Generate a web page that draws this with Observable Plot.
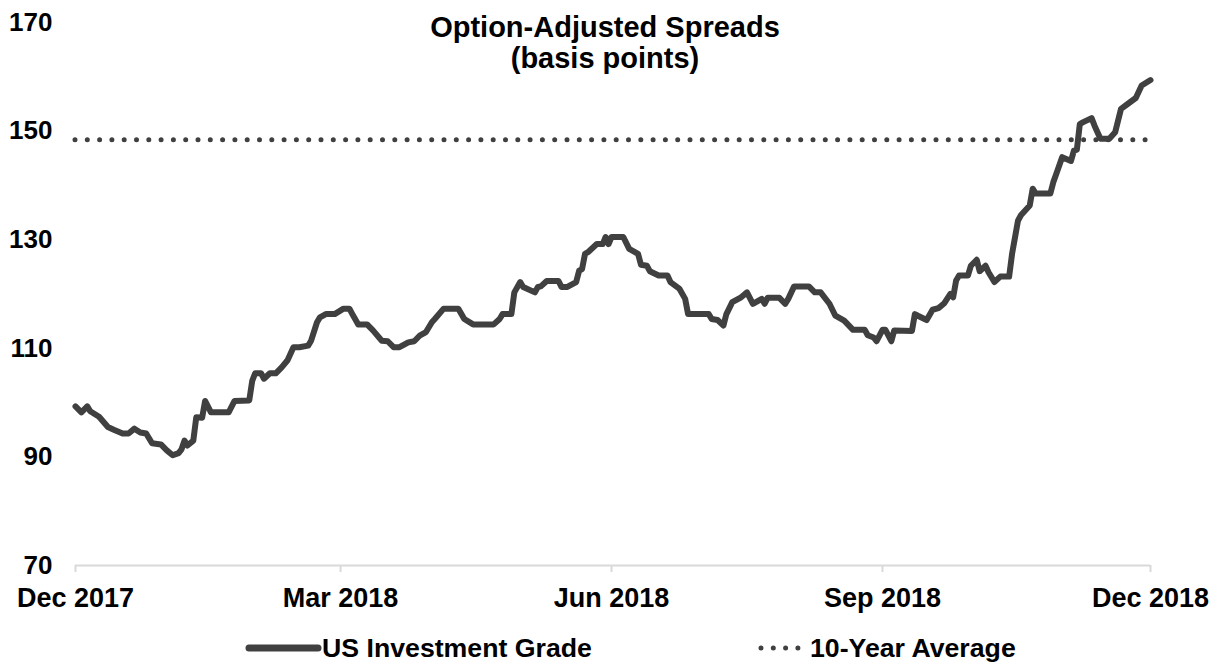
<!DOCTYPE html>
<html><head><meta charset="utf-8">
<script src="https://cdn.jsdelivr.net/npm/d3@7"></script>
<script src="https://cdn.jsdelivr.net/npm/@observablehq/plot@0.6"></script>
<style>
body{margin:0;background:#fff;font-family:"Liberation Sans",Arial,sans-serif;}
#wrap{position:relative;width:1218px;height:664px;overflow:hidden;}
#title{position:absolute;left:305px;width:600px;top:12px;text-align:center;font-weight:bold;font-size:29px;line-height:31px;color:#000;}
#legend{position:relative;height:39px;}
.item{position:absolute;top:8px;display:flex;align-items:center;height:30px;line-height:30px;font-weight:bold;font-size:26.7px;color:#000;white-space:nowrap;}
.item svg{display:block;}
</style></head>
<body><div id="wrap"><div id="chart"></div><div id="title">Option-Adjusted Spreads<br>(basis points)</div><div id="legend"></div></div>
<script>
const seriesName = "US Investment Grade";
const averageName = "10-Year Average";
const tenYearAverage = 148.4;
const yTicks = [70, 90, 110, 130, 150, 170];
const xTickDates = ["2017-12-01", "2018-03-01", "2018-06-01", "2018-09-01", "2018-12-01"];
const dates = [
"2017-12-01","2017-12-03","2017-12-05","2017-12-06","2017-12-09","2017-12-12","2017-12-14","2017-12-17","2017-12-19","2017-12-21",
"2017-12-23","2017-12-25","2017-12-27","2017-12-30","2018-01-01","2018-01-03","2018-01-05","2018-01-06","2018-01-07","2018-01-08",
"2018-01-10","2018-01-11","2018-01-13","2018-01-14","2018-01-16","2018-01-22","2018-01-24","2018-01-29","2018-01-30","2018-01-31",
"2018-02-02","2018-02-03","2018-02-05","2018-02-07","2018-02-09","2018-02-11","2018-02-13","2018-02-15","2018-02-18","2018-02-19",
"2018-02-21","2018-02-22","2018-02-24","2018-02-27","2018-03-02","2018-03-04","2018-03-05","2018-03-07","2018-03-10","2018-03-12",
"2018-03-15","2018-03-17","2018-03-19","2018-03-21","2018-03-24","2018-03-26","2018-03-28","2018-03-30","2018-04-01","2018-04-02",
"2018-04-05","2018-04-10","2018-04-12","2018-04-15","2018-04-22","2018-04-24","2018-04-25","2018-04-28","2018-04-29","2018-05-01",
"2018-05-02","2018-05-06","2018-05-07","2018-05-08","2018-05-10","2018-05-14","2018-05-15","2018-05-17","2018-05-20","2018-05-21",
"2018-05-22","2018-05-23","2018-05-24","2018-05-27","2018-05-29","2018-05-30","2018-05-31","2018-06-01","2018-06-05","2018-06-07",
"2018-06-10","2018-06-11","2018-06-13","2018-06-14","2018-06-17","2018-06-20","2018-06-21","2018-06-24","2018-06-26","2018-06-27",
"2018-07-04","2018-07-05","2018-07-07","2018-07-09","2018-07-10","2018-07-12","2018-07-15","2018-07-17","2018-07-19","2018-07-22",
"2018-07-23","2018-07-24","2018-07-28","2018-07-30","2018-07-31","2018-08-02","2018-08-07","2018-08-09","2018-08-11","2018-08-14",
"2018-08-16","2018-08-19","2018-08-22","2018-08-26","2018-08-27","2018-08-29","2018-08-30","2018-09-01","2018-09-02","2018-09-04",
"2018-09-05","2018-09-11","2018-09-12","2018-09-13","2018-09-16","2018-09-18","2018-09-20","2018-09-22","2018-09-24","2018-09-25",
"2018-09-26","2018-09-27","2018-09-30","2018-10-01","2018-10-03","2018-10-04","2018-10-06","2018-10-07","2018-10-09","2018-10-11",
"2018-10-14","2018-10-15","2018-10-17","2018-10-18","2018-10-21","2018-10-22","2018-10-23","2018-10-28","2018-10-29","2018-10-30",
"2018-11-01","2018-11-04","2018-11-05","2018-11-06","2018-11-07","2018-11-08","2018-11-11","2018-11-12","2018-11-14","2018-11-17",
"2018-11-19","2018-11-21","2018-11-23","2018-11-26","2018-11-28","2018-12-01"
];
const spreads = [
99.3,98.2,99.3,98.4,97.4,95.5,95.0,94.3,94.3,95.2,
94.5,94.3,92.5,92.3,91.2,90.3,90.7,91.4,93.0,92.1,
93.0,97.3,97.2,100.3,98.2,98.2,100.3,100.4,104.0,105.4,
105.4,104.4,105.4,105.4,106.5,107.8,110.2,110.2,110.5,111.4,
114.8,115.7,116.3,116.3,117.3,117.3,116.3,114.4,114.4,113.3,
111.4,111.3,110.2,110.2,111.1,111.3,112.4,113.0,114.8,115.4,
117.3,117.3,115.4,114.4,114.4,115.4,116.3,116.3,120.3,122.2,
121.3,120.3,121.3,121.4,122.4,122.4,121.3,121.3,122.2,124.3,
124.6,127.4,127.7,129.2,129.2,130.5,129.2,130.5,130.5,128.3,
127.4,125.4,125.2,124.2,123.4,123.4,122.2,121.0,119.1,116.3,
116.3,115.4,115.2,114.2,116.3,118.5,119.4,120.3,118.2,119.1,
118.2,119.3,119.3,118.2,119.1,121.4,121.4,120.3,120.3,118.2,
116.0,115.1,113.4,113.4,112.4,112.0,111.3,113.4,113.4,111.3,
113.3,113.2,116.3,116.0,115.2,117.1,117.4,118.3,120.0,119.4,
122.5,123.4,123.4,125.2,126.3,124.2,125.2,124.0,122.2,123.2,
123.2,127.4,133.5,134.5,136.3,139.4,138.5,138.5,140.6,142.1,
145.2,144.5,146.4,146.6,151.3,151.6,152.4,151.0,148.6,148.6,
149.8,154.1,154.9,156.1,158.4,159.4
];

const lineColor = "#404040";
const data = dates.map((d, i) => ({date: new Date(d + "T00:00:00Z"), value: spreads[i]}));
const ticks = xTickDates.map(d => new Date(d + "T00:00:00Z"));

const chart = Plot.plot({
  width: 1218,
  height: 625,
  marginLeft: 75,
  marginRight: 68,
  marginTop: 22,
  marginBottom: 60,
  style: {fontFamily: '"Liberation Sans", Arial, sans-serif', fontWeight: "bold", fontSize: "26px", color: "#000", background: "#fff"},
  x: {type: "utc", domain: [ticks[0], ticks[ticks.length - 1]]},
  y: {domain: [70, 170]},
  marks: [
    Plot.axisY({ticks: yTicks, tickSize: 0, tickPadding: 23, fill: "#000", fontSize: 26, fontWeight: "bold", label: null}),
    Plot.ruleY([70], {stroke: "#d9d9d9", strokeWidth: 2}),
    Plot.axisX({ticks: ticks, tickFormat: d3.utcFormat("%b %Y"), tickSize: 7, tickPadding: 15, stroke: "#d9d9d9", strokeWidth: 2, fill: "#000", fontSize: 27, fontWeight: "bold", label: null}),
    Plot.ruleY([tenYearAverage], {stroke: lineColor, strokeWidth: 5, strokeDasharray: "0 12.3", strokeLinecap: "round"}),
    Plot.line(data, {x: "date", y: "value", stroke: lineColor, strokeWidth: 6, strokeLinejoin: "round", strokeLinecap: "round"})
  ]
});
document.getElementById("chart").appendChild(chart);

const legend = document.getElementById("legend");
const items = [
  {name: seriesName, left: 245, svg: `<svg width="77" height="12"><line x1="4" y1="6" x2="73" y2="6" stroke="${lineColor}" stroke-width="7" stroke-linecap="round"/></svg>`},
  {name: averageName, left: 756, svg: `<svg width="54" height="12"><line x1="5" y1="6" x2="42" y2="6" stroke="${lineColor}" stroke-width="5" stroke-dasharray="0 12.3" stroke-linecap="round"/></svg>`}
];
for (const it of items) {
  const div = document.createElement("div");
  div.className = "item";
  div.style.left = it.left + "px";
  div.innerHTML = it.svg + `<span>${it.name}</span>`;
  legend.appendChild(div);
}
</script>
</body></html>
